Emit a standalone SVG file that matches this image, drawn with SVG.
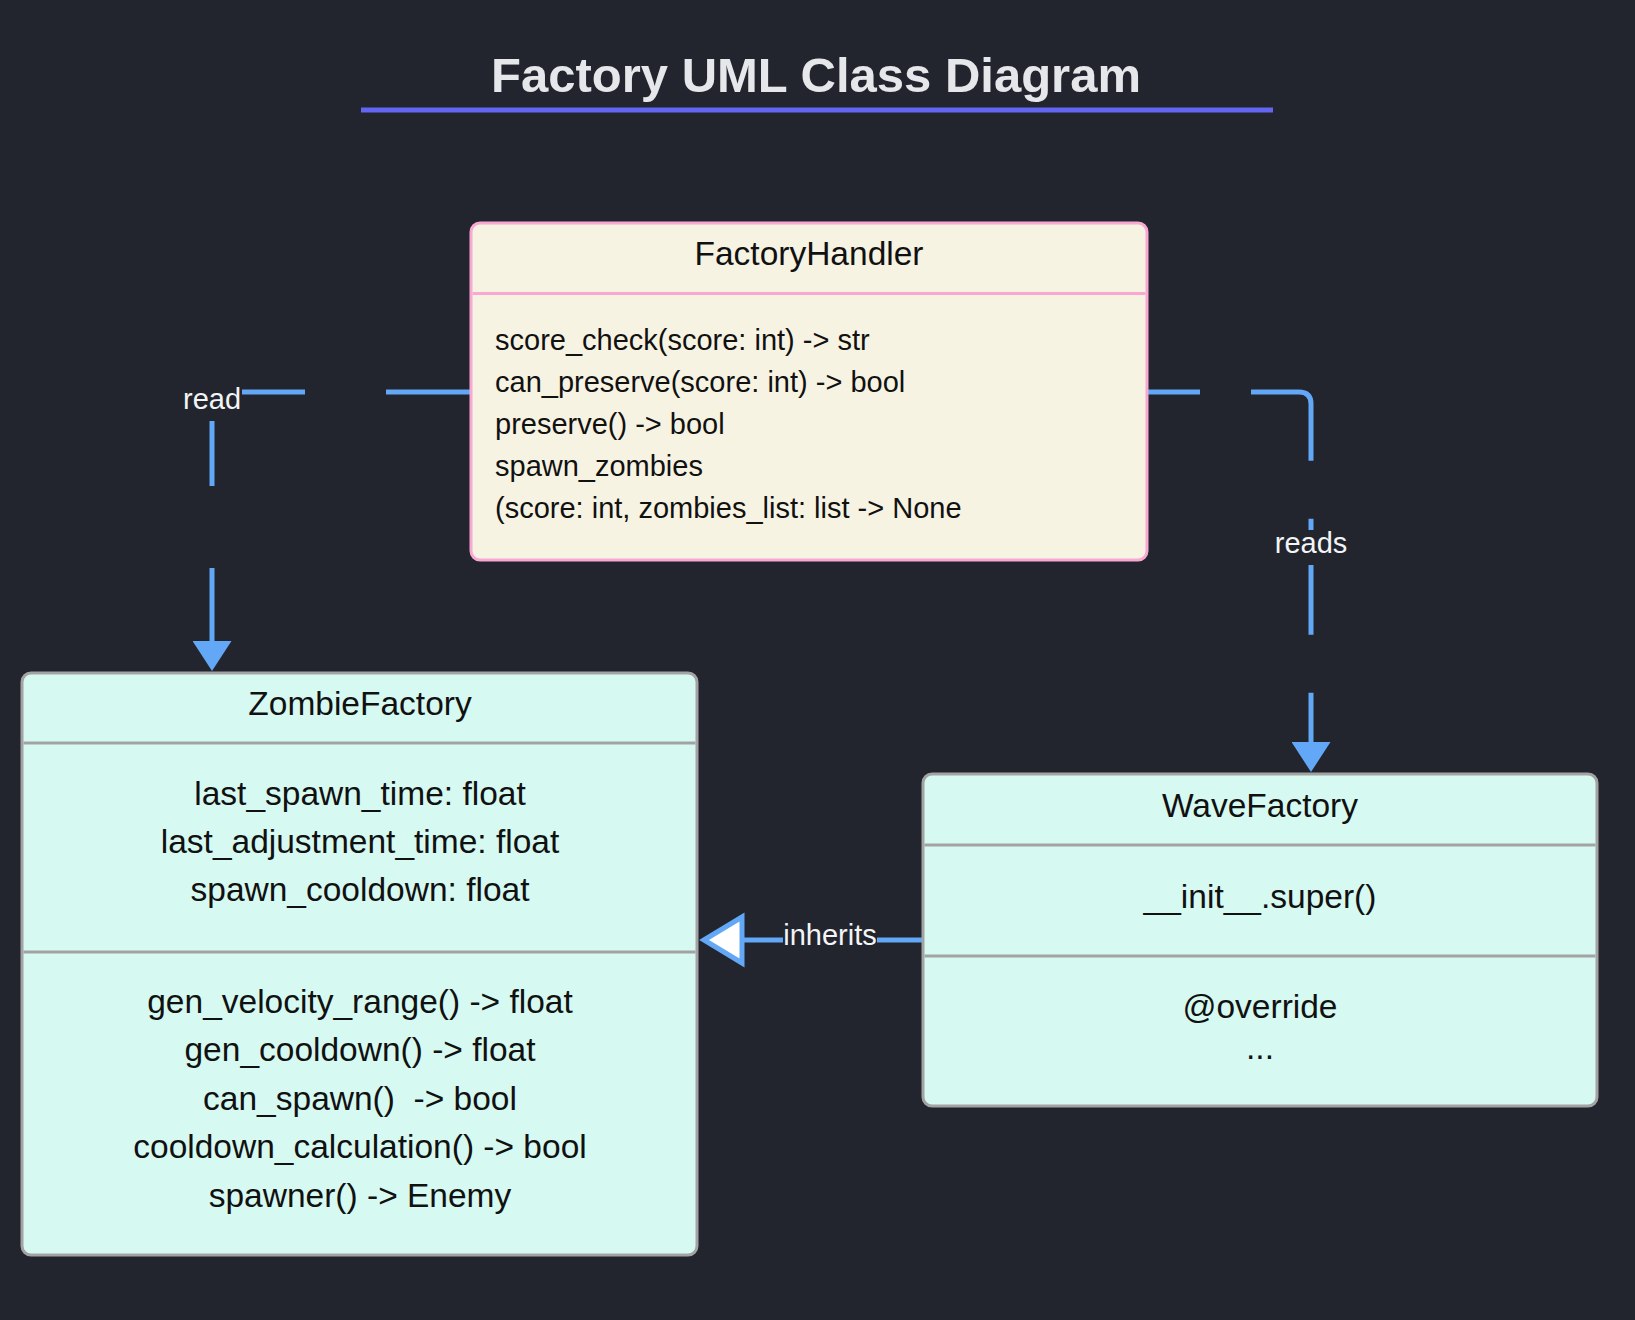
<svg xmlns="http://www.w3.org/2000/svg" width="1635" height="1320" viewBox="0 0 1635 1320">
<style>
text{font-family:"Liberation Sans",Arial,Helvetica,sans-serif}
.title{font-size:49px;font-weight:bold;fill:#e5e7eb;text-anchor:middle}
.box-fh{fill:#f7f3e3;stroke:#f9a8d4;stroke-width:3}
.box-z{fill:#d6f9f2;stroke:#a3a3a3;stroke-width:3}
.div-fh{stroke:#f9a8d4;stroke-width:3}
.div-z{stroke:#a3a3a3;stroke-width:3}
.name{font-size:33.5px;fill:#111;text-anchor:middle}
.mem{font-size:33.5px;fill:#111;text-anchor:middle;white-space:pre}
.fhmem{font-size:29px;fill:#111}
.edge{fill:none;stroke:#63a8f7;stroke-width:5}
.lblbg{fill:#22252d}
.lbl{font-size:29px;fill:#f3f4f6;text-anchor:middle}
</style>
<defs>
<marker id="arrow" markerUnits="userSpaceOnUse" viewBox="0 0 30 39" refX="0" refY="19.5" markerWidth="30" markerHeight="39" orient="auto">
<path d="M0,0 L30,19.5 L0,39 Z" fill="#63a8f7"/>
</marker>
</defs>
<rect width="1635" height="1320" fill="#22252d"/>
<text class="title" x="816" y="92">Factory UML Class Diagram</text>
<rect x="361" y="107.5" width="912" height="5" fill="#6366f1"/>

<g id="connectors">
<path class="edge" d="M470,392 H212 V641" stroke-dasharray="84 81 187 82 120" marker-end="url(#arrow)"/>
<rect class="lblbg" x="182" y="386" width="60" height="35"/>
<text class="lbl" x="212" y="409">read</text>
<path class="edge" d="M1148,392 H1299 Q1311,392 1311,404 V742" stroke-dasharray="52 51 124 58 116 58 80" marker-end="url(#arrow)"/>
<rect class="lblbg" x="1275" y="530" width="72" height="35"/>
<text class="lbl" x="1311" y="553">reads</text>
<path class="edge" d="M923,940 H742"/>
<polygon points="704,940 742,917 742,963" fill="#ffffff" stroke="#63a8f7" stroke-width="5" stroke-linejoin="miter"/>
<rect class="lblbg" x="783" y="922" width="94" height="35"/>
<text class="lbl" x="830" y="945">inherits</text>
</g>

<g id="FactoryHandler">
<rect class="box-fh" x="471" y="223" width="676" height="337" rx="9"/>
<line class="div-fh" x1="472.5" y1="293.5" x2="1145.5" y2="293.5"/>
<text class="name" x="809" y="265">FactoryHandler</text>
<text class="fhmem" x="495" y="350">score_check(score: int) -&gt; str</text>
<text class="fhmem" x="495" y="392">can_preserve(score: int) -&gt; bool</text>
<text class="fhmem" x="495" y="434">preserve() -&gt; bool</text>
<text class="fhmem" x="495" y="476">spawn_zombies</text>
<text class="fhmem" x="495" y="518">(score: int, zombies_list: list -&gt; None</text>
</g>

<g id="ZombieFactory">
<rect class="box-z" x="22" y="673" width="675" height="582" rx="9"/>
<line class="div-z" x1="23.5" y1="743" x2="695.5" y2="743"/>
<line class="div-z" x1="23.5" y1="952" x2="695.5" y2="952"/>
<text class="name" x="360" y="715">ZombieFactory</text>
<text class="mem" x="360" y="805">last_spawn_time: float</text>
<text class="mem" x="360" y="853">last_adjustment_time: float</text>
<text class="mem" x="360" y="901">spawn_cooldown: float</text>
<text class="mem" x="360" y="1013">gen_velocity_range() -&gt; float</text>
<text class="mem" x="360" y="1061">gen_cooldown() -&gt; float</text>
<text class="mem" x="360" y="1110">can_spawn()  -&gt; bool</text>
<text class="mem" x="360" y="1158">cooldown_calculation() -&gt; bool</text>
<text class="mem" x="360" y="1207">spawner() -&gt; Enemy</text>
</g>

<g id="WaveFactory">
<rect class="box-z" x="923" y="774" width="674" height="332" rx="9"/>
<line class="div-z" x1="924.5" y1="845" x2="1595.5" y2="845"/>
<line class="div-z" x1="924.5" y1="956" x2="1595.5" y2="956"/>
<text class="name" x="1260" y="817">WaveFactory</text>
<text class="mem" x="1260" y="908">__init__.super()</text>
<text class="mem" x="1260" y="1018">@override</text>
<text class="mem" x="1260" y="1059">...</text>
</g>
</svg>
